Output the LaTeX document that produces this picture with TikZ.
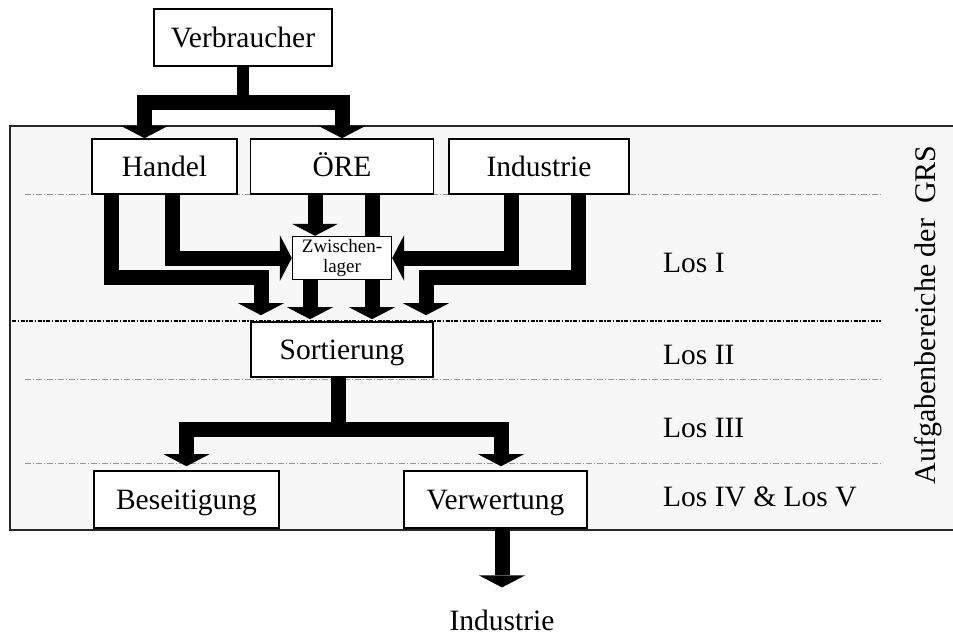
\documentclass[tikz,border=0pt]{standalone}
\usepackage{fontspec}
\setmainfont{Liberation Serif}
\usetikzlibrary{arrows.meta}

\begin{document}
\begin{tikzpicture}[x=1pt,y=-1pt,
  kasten/.style={draw,line width=1.6pt,fill=white,inner sep=0pt,text height=20pt,text depth=-11pt,font=\fontsize{29.5}{32}\selectfont},
  los/.style={anchor=base west,inner sep=0pt,font=\fontsize{29.5}{32}\selectfont},
  strom/.style={line width=15pt},
  pfeil/.style={strom,-{Triangle[length=12pt,width=46pt,line width=0pt]}},
  trenn/.style={gray!80,line width=1pt,dash pattern=on 6pt off 2pt on 1pt off 2pt},
  trenndick/.style={black,line width=2pt,dash pattern=on 4pt off 1.5pt on 1.5pt off 1.5pt}]
\useasboundingbox (0,0) rectangle (953,637);
\fill[black!3] (10,126) rectangle (953,530);
\draw[line width=1.6pt,black!85] (953,126) -| (10,530) -- (953,530);
\draw[trenn] (25,194) -- (881,194);
\draw[trenndick] (12,321) -- (881,321);
\draw[trenn] (25,379) -- (881,379);
\draw[trenn] (25,463) -- (881,463);

\node[kasten,minimum width=178pt,minimum height=57pt] (verb) at (243,37.5) {Verbraucher};
\node[kasten,minimum width=145pt,minimum height=55pt] (handel) at (164.5,166.5) {Handel};
\node[kasten,minimum width=183pt,minimum height=55pt] (oere) at (342,166.5) {ÖRE};
\node[kasten,minimum width=180pt,minimum height=55pt] (indu) at (539,166.5) {Industrie};
\node[draw,fill=white,line width=1.4pt,inner sep=0pt,font=\fontsize{19}{20}\selectfont,align=center,minimum width=99pt,minimum height=43pt] (zw) at (342,258) {Zwischen-\\lager};
\node[kasten,minimum width=182pt,minimum height=55pt] (sort) at (342,349.5) {Sortierung};
\node[kasten,minimum width=185pt,minimum height=57pt] (bes) at (186.5,499.5) {Beseitigung};
\node[kasten,minimum width=183pt,minimum height=57pt] (verw) at (495.5,499.5) {Verwertung};
\node[inner sep=0pt,font=\fontsize{29.5}{32}\selectfont] (indtxt) at (502,620) {Industrie};

\node[los] (los1) at (663,272) {Los I};
\node[los] (los2) at (663,364) {Los II};
\node[los] (los3) at (663,437) {Los III};
\node[los] (los4) at (663,506) {Los IV \& Los V};
\node[rotate=90,inner sep=0pt,font=\fontsize{30}{32}\selectfont] (grs) at (928,315) {Aufgabenbereiche der\ \ GRS};

\coordinate (vsplit) at (243,102.5);
\draw[strom,line width=12pt] (verb.south) -- (vsplit);
\draw[pfeil] (vsplit) -| ([xshift=-20pt]handel.north);
\draw[pfeil] (vsplit) -| (oere.north);

\draw[pfeil] ([xshift=-53pt]handel.south) |- (261,277) -- ([xshift=-81pt,yshift=6pt]sort.north);
\draw[pfeil] ([xshift=8pt]handel.south) |- (zw.west);
\draw[pfeil] ([xshift=-27pt]oere.south) -- ([xshift=-27pt]zw.north);
\draw[strom] ([xshift=30pt]oere.south) -- ([xshift=30pt]zw.north);
\draw[pfeil] ([xshift=30pt]zw.south) -- ([xshift=30pt,yshift=2pt]sort.north);
\draw[pfeil] ([xshift=-32pt]zw.south) -- ([xshift=-32pt,yshift=2pt]sort.north);
\draw[pfeil] ([xshift=-28pt]indu.south) |- (zw.east);
\draw[pfeil] ([xshift=39pt]indu.south) |- (426,277.5) -- ([xshift=84pt,yshift=6pt]sort.north);

\coordinate (ssplit) at (338,429);
\draw[strom] ([xshift=-4pt]sort.south) -- (ssplit);
\draw[pfeil] (ssplit) -| ([yshift=4pt]bes.north);
\draw[pfeil] (ssplit) -| ([xshift=5.5pt,yshift=4pt]verw.north);
\draw[pfeil] ([xshift=6.5pt]verw.south) -- ([yshift=22pt]indtxt.north);
\end{tikzpicture}
\end{document}
